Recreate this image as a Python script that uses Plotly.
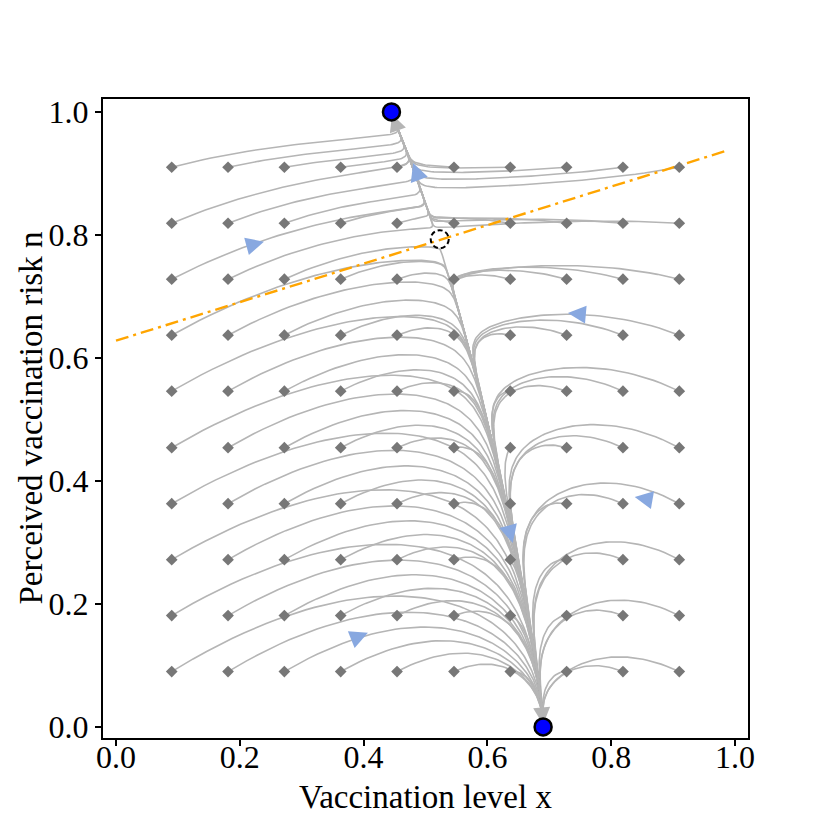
import numpy as np
import plotly.graph_objects as go

# ---------------- data ----------------
X_START = [0.09, 0.181, 0.272, 0.363, 0.454, 0.546, 0.637, 0.728, 0.819, 0.91]
N_START = [0.09, 0.181, 0.272, 0.363, 0.454, 0.546, 0.637, 0.728, 0.819, 0.91]

STABLE_X = [0.445, 0.69]
STABLE_N = [1.0, 0.0]
SADDLE_X = [0.523]
SADDLE_N = [0.793]

ORANGE_X = [0.0, 0.99]
ORANGE_N = [0.628, 0.938]

BLUE_ARROW_X = [0.239, 0.480, 0.730, 0.838, 0.641, 0.407]
BLUE_ARROW_N = [0.789, 0.917, 0.673, 0.374, 0.299, 0.153]
BLUE_ARROW_ANGLE = [75, -20, -85, -80, 165, 68]

GRAY_ARROW_X = [0.446, 0.690]
GRAY_ARROW_N = [0.996, 0.004]
GRAY_ARROW_ANGLE = [-20, 175]

X_TICKS = [0.0, 0.2, 0.4, 0.6, 0.8, 1.0]
N_TICKS = [0.0, 0.2, 0.4, 0.6, 0.8, 1.0]

X_LABEL = "Vaccination level x"
N_LABEL = "Perceived vaccination risk n"

# ---------------- model used to trace trajectories ----------------
G0, G1, GP = 0.69, 0.246, 1.57      # x-nullcline x = g(n)
K_X = 1.0                            # relaxation speed of x
BETA = 0.4                           # slow drift of n along the nullcline
DECAY_L, DECAY_R = 0.6, 1.15         # decay of the initial transient (left / right starts)
A_LEFT, C_LEFT = 1.1, 0.45
A_RIGHT, C_RIGHT, T_RIGHT = 3.0, 0.2, 0.87

slope_L = (ORANGE_N[1] - ORANGE_N[0]) / (ORANGE_X[1] - ORANGE_X[0])


def g(n):
    return G0 - G1 * np.clip(n, 0, 1) ** GP


def L(x):
    return ORANGE_N[0] + slope_L * (x - ORANGE_X[0])


xs0, ns0 = np.meshgrid(X_START, N_START)
x = xs0.ravel().astype(float)
n = ns0.ravel().astype(float)
z = np.ones_like(x)
w0 = (x - X_START[0]) / (X_START[-1] - X_START[0])
decay = DECAY_L * (1 - w0) + DECAY_R * w0


def rhs(x, n, z):
    gx = g(n)
    dx = K_X * (gx - x)
    d = np.abs(gx - x)
    s = 1 - n ** 3
    sl = z * A_LEFT * s - C_LEFT * s ** 2
    sr = z * A_RIGHT * (T_RIGHT - n) * (0.25 + n) - C_RIGHT * s
    dn = BETA * n * (1 - n) * (n - L(x)) + d * ((1 - w0) * sl + w0 * sr)
    dz = -decay * z
    return dx, dn, dz


dt = 0.02
steps = 16000
hist_x = [x.copy()]
hist_n = [n.copy()]
for i in range(steps):
    k1 = rhs(x, n, z)
    k2 = rhs(x + dt / 2 * k1[0], n + dt / 2 * k1[1], z + dt / 2 * k1[2])
    k3 = rhs(x + dt / 2 * k2[0], n + dt / 2 * k2[1], z + dt / 2 * k2[2])
    k4 = rhs(x + dt * k3[0], n + dt * k3[1], z + dt * k3[2])
    x = x + dt / 6 * (k1[0] + 2 * k2[0] + 2 * k3[0] + k4[0])
    n = n + dt / 6 * (k1[1] + 2 * k2[1] + 2 * k3[1] + k4[1])
    z = z + dt / 6 * (k1[2] + 2 * k2[2] + 2 * k3[2] + k4[2])
    n = np.clip(n, 0, 1)
    if i % 2 == 0:
        hist_x.append(x.copy())
        hist_n.append(n.copy())

HX = np.array(hist_x)
HN = np.array(hist_n)

line_x, line_y = [], []
for j in range(HX.shape[1]):
    px, py = HX[:, j], HN[:, j]
    keep = [0]
    for k in range(1, len(px)):
        if np.hypot(px[k] - px[keep[-1]], py[k] - py[keep[-1]]) > 0.003:
            keep.append(k)
    line_x.extend(px[keep].tolist() + [None])
    line_y.extend(py[keep].tolist() + [None])

# ---------------- figure ----------------
fig = go.Figure()
fig.add_trace(go.Scatter(x=line_x, y=line_y, mode="lines",
                         line=dict(color="#b5b5b5", width=1.6),
                         hoverinfo="skip", showlegend=False))
fig.add_trace(go.Scatter(x=ORANGE_X, y=ORANGE_N, mode="lines",
                         line=dict(color="#ffa500", width=2.4, dash="13px,5px,3px,5px"),
                         showlegend=False))
fig.add_trace(go.Scatter(x=xs0.ravel(), y=ns0.ravel(), mode="markers",
                         marker=dict(symbol="diamond", size=9, color="#777777"),
                         showlegend=False))
fig.add_trace(go.Scatter(x=GRAY_ARROW_X, y=GRAY_ARROW_N, mode="markers",
                         marker=dict(symbol="arrow-up", size=17, color="#b5b5b5",
                                     angle=GRAY_ARROW_ANGLE, line=dict(width=0)),
                         showlegend=False))
fig.add_trace(go.Scatter(x=BLUE_ARROW_X, y=BLUE_ARROW_N, mode="markers",
                         marker=dict(symbol="arrow-up", size=18, color="#88a8e0",
                                     angle=BLUE_ARROW_ANGLE, line=dict(width=0)),
                         showlegend=False))
fig.add_trace(go.Scatter(x=STABLE_X, y=STABLE_N, mode="markers",
                         marker=dict(symbol="circle", size=17, color="#0000ff",
                                     line=dict(color="black", width=2.5)),
                         showlegend=False, cliponaxis=False))
fig.add_shape(type="circle", xref="x", yref="y", xsizemode="pixel", ysizemode="pixel",
              xanchor=SADDLE_X[0], yanchor=SADDLE_N[0], x0=-9, x1=9, y0=-9, y1=9,
              line=dict(color="black", width=2, dash="5px,3px"))

font_family = "Liberation Serif"
axis_common = dict(showgrid=False, zeroline=False, showline=True, mirror=True,
                   linecolor="black", linewidth=2, ticks="outside", ticklen=6,
                   tickwidth=1.5, tickcolor="black", tickformat=".1f",
                   automargin=False,
                   tickfont=dict(family=font_family, size=32, color="black"))
# the page body adds an 8 px offset, so the figure is 822 px with shifted margins
fig.update_layout(
    width=822, height=822,
    margin=dict(l=95, r=82, t=91, b=92),
    paper_bgcolor="white", plot_bgcolor="white",
    xaxis=dict(range=[-0.021, 1.021], tickvals=X_TICKS, ticklabelstandoff=-16,
               **axis_common),
    yaxis=dict(range=[-0.018, 1.021], tickvals=N_TICKS, **axis_common),
    annotations=[
        dict(text=X_LABEL, xref="paper", yref="paper", x=0.5, y=0,
             xanchor="center", yanchor="middle", yshift=-59, showarrow=False,
             font=dict(family=font_family, size=33, color="black")),
        dict(text=N_LABEL, xref="paper", yref="paper", x=0, y=0.5,
             xanchor="center", yanchor="middle", xshift=-73, textangle=-90,
             showarrow=False,
             font=dict(family=font_family, size=33, color="black")),
    ],
)
fig.write_html("out.html")
